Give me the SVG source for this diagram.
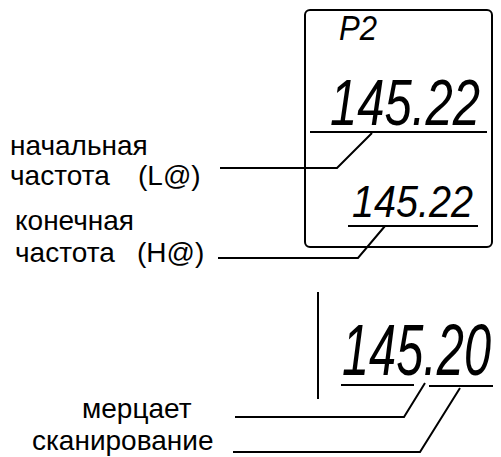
<svg xmlns="http://www.w3.org/2000/svg" width="501" height="457" viewBox="0 0 501 457">
<style>
.lbl{font-family:"Liberation Sans",Arial,sans-serif;font-size:28px;fill:#000}
.seg{font-family:"Liberation Sans",Arial,sans-serif;font-style:italic;fill:#000}
.ln{stroke:#000;stroke-width:2;fill:none}
</style>
<rect width="501" height="457" fill="#fff"/>
<g id="display">
<rect x="305" y="10" width="187" height="237" rx="5" class="ln"/>
<text class="seg" transform="translate(339,40) scale(1,1.16)" font-size="30" textLength="38" lengthAdjust="spacingAndGlyphs">P2</text>
<text class="seg" transform="translate(330,125) scale(1,1.31)" font-size="50" textLength="150" lengthAdjust="spacingAndGlyphs">145.22</text>
<line x1="310" y1="132" x2="487" y2="132" class="ln"/>
<text class="seg" transform="translate(352,217) scale(1,1.12)" font-size="40" textLength="121" lengthAdjust="spacingAndGlyphs">145.22</text>
<line x1="348" y1="226" x2="478" y2="226" class="ln"/>
</g>
<g id="scan-display">
<line x1="318" y1="292" x2="318" y2="399" class="ln"/>
<text class="seg" transform="translate(342,375) scale(1,1.45)" font-size="50" textLength="149" lengthAdjust="spacingAndGlyphs">145.20</text>
<line x1="341" y1="385" x2="414" y2="385" class="ln"/>
<line x1="429" y1="386" x2="493" y2="386" class="ln"/>
</g>
<g id="label-start">
<text class="lbl" x="10" y="155">начальная</text>
<text class="lbl" x="10" y="185">частота<tspan x="138">(L@)</tspan></text>
</g>
<g id="label-end">
<text class="lbl" x="15" y="230">конечная</text>
<text class="lbl" x="15" y="262">частота<tspan x="137">(H@)</tspan></text>
</g>
<g id="label-blink">
<text class="lbl" x="82" y="418">мерцает</text>
</g>
<g id="label-scan">
<text class="lbl" x="32" y="450">сканирование</text>
</g>
<g id="connectors">
<polyline points="220,168 337,168 372,133" class="ln"/>
<polyline points="218,258 358,258 385,226" class="ln"/>
<polyline points="235,417 404,417 425,383" class="ln"/>
<polyline points="233,452 420,452 460,388" class="ln"/>
</g>
</svg>
